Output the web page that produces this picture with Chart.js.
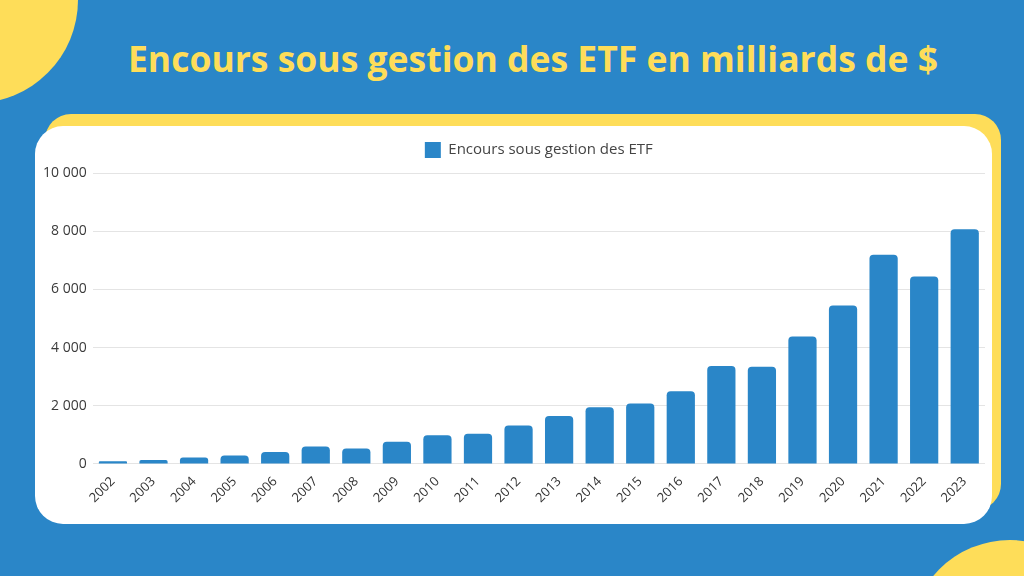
<!DOCTYPE html>
<html><head><meta charset="utf-8">
<script src="https://cdn.jsdelivr.net/npm/chart.js@4"></script>
<style>
html,body{margin:0;padding:0;width:1024px;height:576px;overflow:hidden;background:#2a86c8;font-family:"Open Sans",sans-serif;}
.circ{position:absolute;border-radius:50%;background:#fedd59;}
#c1{left:-128px;top:-103px;width:206px;height:206px;}
#c2{left:910px;top:540px;width:200px;height:200px;}
#yellow{position:absolute;left:45px;top:114px;width:956px;height:396px;background:#fedd59;border-radius:26px;}
#card{position:absolute;left:35px;top:126px;width:957px;height:398px;background:#fff;border-radius:28px;}
#title{position:absolute;left:0;top:33px;width:1066px;text-align:center;color:#fedd59;font-weight:700;font-size:35.5px;line-height:50px;}
#wrap{position:absolute;left:35px;top:126px;width:957px;height:398px;}
</style></head>
<body>
<div class="circ" id="c1"></div>
<div class="circ" id="c2"></div>
<div id="yellow"></div>
<div id="card"></div>
<div id="title">Encours sous gestion des ETF en milliards de $</div>
<div id="wrap"><canvas id="chart" width="957" height="398"></canvas></div>
<script>
const years = ["2002","2003","2004","2005","2006","2007","2008","2009","2010","2011","2012","2013","2014","2015","2016","2017","2018","2019","2020","2021","2022","2023"];
const aum = [90,137,219,288,411,596,527,767,983,1041,1322,1644,1952,2075,2500,3366,3342,4378,5450,7186,6443,8069];
const seriesLabel = "Encours sous gestion des ETF";
const yTicks = [0,2000,4000,6000,8000,10000];

function fmt(v){return String(v).replace(/\B(?=(\d{3})+(?!\d))/g," ");}

const legendTweak = {
  id:"legendTweak",
  beforeInit(chart){
    const orig = chart.legend.fit;
    chart.legend.fit = function(){ orig.call(this); this.height += 5; };
  },
  afterLayout(chart){
    const lg = chart.legend, ca = chart.chartArea;
    const d = (ca.left + ca.right)/2 - (lg.left + lg.right)/2;
    lg.left += d; lg.right += d;
  }
};

new Chart(document.getElementById("chart"),{
  type:"bar",
  data:{labels:years,datasets:[{label:seriesLabel,data:aum,backgroundColor:"#2a86c8",borderRadius:4,borderSkipped:"bottom",categoryPercentage:0.8,barPercentage:0.87}]},
  plugins:[legendTweak],
  options:{
    responsive:false,animation:false,
    layout:{padding:{left:2,right:7,top:6,bottom:16}},
    plugins:{
      legend:{labels:{font:{family:"Open Sans",size:15},color:"#444",boxWidth:16,boxHeight:16,padding:10}},
      tooltip:{enabled:false}
    },
    scales:{
      x:{grid:{display:false},border:{display:false},
         ticks:{font:{family:"Open Sans",size:13},color:"#333",maxRotation:45,minRotation:45,padding:2}},
      y:{min:0,max:10000,afterBuildTicks:(s)=>{s.ticks=yTicks.map(v=>({value:v}));},
         grid:{color:"#e4e4e4",drawTicks:false},border:{display:false},
         ticks:{font:{family:"Open Sans",size:14},color:"#3a3a3a",padding:6,callback:(v)=>fmt(v)}}
    }
  }
});
</script>
</body></html>
